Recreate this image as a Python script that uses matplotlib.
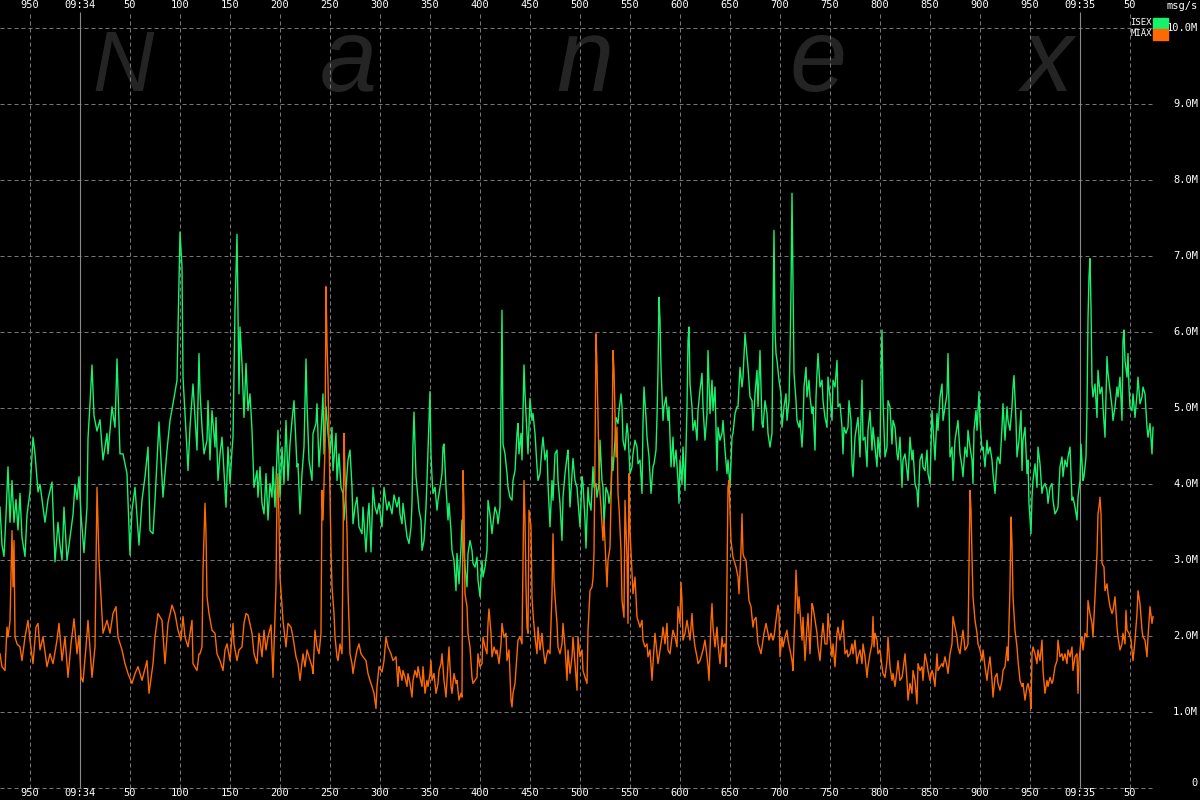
import numpy as np
import matplotlib.pyplot as plt
from matplotlib.patches import Rectangle

# 时间轴: ms after 09:33:00.000, chart left edge is 09:33.920
t0 = 920

# ISEX msg/s (millions), time offsets in ms from the left edge
isex_t = [0, 2, 4, 6, 8, 10, 12, 14, 16, 18, 20, 22, 25, 27, 30,
          33, 35, 38, 40, 43, 45, 48, 52, 55, 58, 60, 62, 64, 67, 70,
          73, 75, 77, 79, 81, 84, 87, 88, 90, 92, 94, 97, 100, 103, 107,
          108, 112, 115, 117, 120, 123, 127, 130, 132, 135, 139, 142, 145, 148, 150,
          153, 155, 159, 163, 167, 170, 173, 177, 180, 182, 183, 187, 188, 190, 193,
          197, 199, 200, 202, 204, 207, 208, 210, 212, 215, 216, 218, 220, 222, 223,
          226, 228, 230, 232, 233, 235, 237, 239, 240, 242, 244, 246, 248, 250, 252,
          254, 257, 258, 260, 262, 264, 266, 268, 270, 272, 273, 275, 277, 278, 280,
          282, 284, 286, 288, 290, 292, 294, 297, 298, 300, 302, 304, 306, 307, 309,
          312, 313, 316, 317, 319, 321, 323, 324, 326, 328, 330, 332, 333, 336, 337,
          339, 341, 343, 344, 347, 348, 350, 352, 353, 355, 357, 359, 362, 363, 366,
          368, 369, 371, 373, 375, 377, 379, 382, 384, 387, 389, 392, 394, 397, 399,
          400, 402, 403, 405, 407, 409, 411, 412, 413, 414, 416, 417, 419, 421, 422,
          424, 426, 427, 429, 430, 431, 432, 433, 435, 437, 438, 440, 442, 443, 444,
          446, 448, 449, 451, 452, 454, 456, 457, 459, 461, 462, 463, 465, 467, 468,
          470, 472, 473, 475, 477, 478, 480, 482, 483, 485, 487, 488, 490, 492, 493,
          495, 497, 498, 500, 501, 502, 503, 505, 507, 508, 510, 512, 513, 515, 517,
          518, 519, 521, 522, 523, 524, 525, 527, 528, 530, 532, 533, 535, 537, 538,
          540, 542, 543, 545, 547, 548, 550, 552, 553, 555, 557, 558, 560, 562, 563,
          565, 567, 568, 570, 572, 573, 575, 577, 578, 580, 582, 583, 585, 586, 588,
          589, 591, 593, 594, 596, 597, 599,
          600, 602, 603, 604, 606, 608, 609, 611, 612, 613, 615, 616, 618, 619, 621,
          622, 623, 625, 627, 628, 630, 632, 633, 635, 637, 638, 640, 642, 643, 644,
          646, 647, 649, 651, 653, 654, 656, 657, 658, 659, 660, 661, 663, 664, 666,
          668, 669, 671, 673, 674, 676, 678, 679, 680, 682, 683, 685, 687, 688, 689,
          690, 692, 693, 695, 697, 698, 700, 702, 703, 705, 707, 708, 710, 712, 713,
          715, 717, 718, 720, 722, 723, 725, 727, 728, 730, 732, 733, 735, 737, 738,
          740, 742, 743, 745, 747, 748, 750, 752, 753, 755, 757, 758, 760, 762, 763,
          765, 767, 768, 770, 772, 773, 774, 775, 776, 777, 779, 781, 782, 784, 786,
          787, 789, 790, 791, 792, 793, 794, 796, 797, 799,
          800, 802, 803, 804, 806, 807, 809, 810, 812, 813, 815, 816, 817, 818, 820,
          822, 823, 825, 827, 828, 830, 832, 833, 835, 837, 838, 840, 842, 843, 844,
          846, 848, 849, 851, 852, 853, 855, 857, 858, 860, 862, 863, 865, 867, 868,
          870, 872, 873, 875, 877, 878, 880, 881, 882, 883, 885, 887, 888, 890, 892,
          893, 895, 897, 898, 900, 902, 903, 905, 907, 908, 910, 912, 913, 915, 917,
          918, 920, 922, 923, 925, 927, 928, 930, 932, 933, 935, 937, 938, 940, 942,
          943, 945, 947, 948, 950, 952, 953, 955, 957, 958, 960, 962, 963, 965, 967,
          968, 970, 972, 973, 974, 976, 977, 979, 980, 982, 983, 985, 987, 988, 990,
          992, 993, 995, 997, 998,
          1000, 1002, 1003, 1005, 1007, 1008, 1010, 1012, 1013, 1014, 1016, 1017, 1019, 1021, 1022,
          1023, 1025, 1027, 1028, 1029, 1031, 1032, 1033, 1035, 1037, 1038, 1040, 1042, 1043, 1045,
          1047, 1048, 1050, 1052, 1053, 1055, 1057, 1058, 1060, 1062, 1063, 1065, 1067, 1068, 1070,
          1072, 1073, 1075, 1077, 1078, 1080, 1081, 1083, 1084, 1086, 1087, 1088, 1089, 1090, 1091,
          1092, 1093, 1095, 1097, 1098, 1100, 1102, 1103, 1105, 1107, 1108, 1110, 1112, 1113, 1115,
          1117, 1118, 1120, 1122, 1123, 1124, 1125, 1127, 1128, 1129, 1130, 1132, 1133, 1135, 1137,
          1138, 1140, 1142, 1143, 1145, 1147, 1148, 1150, 1152, 1153]
isex_v = [3.70, 3.20, 3.05, 3.6, 4.23, 3.5, 4.05, 3.5, 3.8, 3.4, 3.88, 3.3, 3.05, 3.6, 3.9,
          4.62, 4.4, 3.9, 4.0, 3.7, 3.5, 3.8, 4.03, 2.98, 3.5, 3.2, 3.0, 3.7, 3.0, 3.3,
          3.6, 4.0, 3.8, 4.1, 3.6, 3.1, 3.7, 4.6, 5.06, 5.57, 4.9, 4.7, 4.85, 4.32, 4.67,
          4.4, 5.02, 4.75, 5.65, 4.4, 4.4, 4.14, 3.07, 3.66, 3.96, 3.2, 3.79, 4.1, 4.49, 3.39,
          3.35, 3.79, 4.82, 3.83, 4.45, 4.84, 5.06, 5.37, 7.32, 6.86, 5.41, 4.45, 4.18, 4.75, 5.32,
          4.45, 5.72, 5.22, 4.75, 4.4, 4.58, 5.1, 4.32, 4.97, 4.49, 4.88, 4.05, 4.4, 4.62, 4.4,
          3.7, 4.49, 4.01, 4.45, 4.62, 6.29, 7.29, 5.19, 6.07, 5.59, 4.88, 5.59, 4.97, 5.19, 4.71,
          3.96, 4.18, 3.83, 4.23, 3.75, 3.61, 4.14, 3.53, 4.01, 3.83, 4.23, 3.7, 4.4, 4.71, 3.83,
          4.49, 4.01, 4.84, 4.05, 4.53, 4.84, 5.1, 4.23, 4.27, 3.61, 4.14, 4.49, 5.65, 5.06, 4.32,
          4.05, 4.67, 4.8, 5.06, 4.23, 4.67, 5.19, 4.4, 5.02, 4.67, 4.4, 4.75, 4.18, 4.67, 4.05,
          4.4, 3.96, 3.88, 3.53, 4.14, 4.32, 4.45, 3.96, 3.48, 3.7, 3.83, 3.44, 3.35, 3.7, 3.11,
          3.61, 3.75, 3.11, 3.96, 3.7, 3.61, 3.75, 3.44, 3.96, 3.66, 3.77, 3.61, 3.86, 3.7, 3.83,
          3.61, 3.48, 3.75, 3.53, 3.31, 3.22, 3.44, 3.75, 4.53, 4.95, 4.1, 3.96, 3.66, 3.53, 3.13,
          3.26, 3.7, 4.05, 4.84, 5.22, 4.4, 4.1, 3.88, 3.96, 3.66, 3.79, 3.96, 4.14, 4.49, 4.53,
          3.96, 3.53, 3.75, 3.39, 3.13, 3.0, 2.6, 3.09, 2.69, 3.17, 3.53, 3.26, 2.91, 2.65, 3.09,
          3.26, 3.13, 2.96, 2.91, 3.04, 2.74, 2.52, 3.0, 2.78, 2.91, 3.13, 3.79, 3.61, 3.35, 3.48,
          3.7, 3.61, 3.48, 3.7, 5.1, 6.29, 4.53, 4.4, 4.14, 3.96, 3.83, 3.79, 4.05, 4.18, 4.67,
          4.8, 4.4, 4.67, 4.32, 4.93, 5.57, 5.19, 4.67, 4.4, 5.13, 4.84, 4.93, 4.67, 4.23, 4.05,
          4.14, 4.49, 4.62, 4.32, 4.45, 4.01, 3.44, 4.05, 3.79, 4.4, 4.45, 4.05, 3.75, 3.26, 3.83,
          4.14, 4.36, 4.45, 3.7, 4.14, 4.34, 4.05, 3.96, 3.79, 3.44, 4.1, 4.01, 3.53, 3.16, 3.96,
          3.79, 3.66, 4.23, 3.96, 4.01, 3.83, 4.01,
          4.58, 4.05, 3.96, 3.48, 3.96, 3.88, 3.75, 3.92, 4.36, 4.18, 4.58, 4.88, 4.8, 4.97, 5.19,
          5.02, 4.58, 4.45, 4.8, 4.67, 4.14, 4.23, 4.4, 4.58, 4.49, 4.27, 4.32, 3.88, 4.8, 5.28,
          4.88, 4.62, 4.36, 3.88, 4.23, 4.27, 4.45, 4.88, 5.5, 6.46, 6.16, 5.54, 4.84, 5.02, 5.15,
          4.84, 5.02, 4.23, 4.62, 4.23, 4.45, 4.05, 3.75, 4.32, 4.01, 4.49, 3.92, 5.02, 5.89, 6.07,
          5.32, 5.02, 4.71, 4.84, 4.58, 4.97, 5.24, 5.46, 5.02, 4.58, 4.93, 5.76, 4.93, 5.37, 4.97,
          5.28, 4.18, 4.75, 4.58, 4.67, 4.84, 4.45, 4.14, 4.32, 3.96, 4.62, 4.67, 4.93, 5.02, 5.02,
          5.54, 5.28, 5.41, 5.98, 5.68, 5.54, 5.15, 5.1, 4.71, 5.19, 5.5, 5.02, 5.76, 4.8, 4.75,
          5.1, 4.93, 4.67, 4.49, 4.67, 6.16, 7.34, 6.03, 5.72, 5.63, 5.37, 5.19, 4.75, 5.02, 5.19,
          4.84, 5.1, 5.72, 6.55, 7.83, 6.6, 5.46, 5.1, 4.84, 4.75,
          4.84, 4.49, 4.75, 5.28, 5.54, 5.15, 5.37, 5.15, 4.93, 5.02, 4.45, 5.15, 5.46, 5.72, 5.28,
          5.37, 5.1, 4.88, 4.75, 5.41, 5.15, 4.84, 5.37, 5.28, 5.63, 5.02, 5.06, 4.75, 4.4, 4.75,
          4.67, 4.75, 5.1, 4.84, 4.27, 4.1, 4.62, 4.8, 4.88, 4.36, 5.37, 4.58, 4.62, 4.23, 4.71,
          4.97, 4.45, 4.75, 4.49, 4.23, 4.62, 4.36, 5.5, 6.03, 5.1, 4.36, 4.49, 5.1, 5.02, 4.53,
          4.84, 4.75, 4.4, 4.32, 4.62, 3.96, 4.32, 4.4, 4.18, 4.05, 4.62, 4.32, 4.45, 4.01, 3.92,
          3.7, 4.32, 4.4, 4.23, 4.18, 4.45, 4.14, 4.01, 4.97, 4.75, 4.32, 4.93, 4.71, 5.15, 5.32,
          4.84, 5.02, 5.19, 5.72, 4.36, 4.49, 4.05, 4.58, 4.75, 4.84, 4.4, 4.23, 4.1, 4.49, 4.36,
          4.71, 4.49, 4.32, 4.01, 4.71, 4.97, 4.71, 5.22, 4.84, 4.45, 4.49, 4.23, 4.58, 4.4, 4.49,
          4.32, 4.14, 3.88, 4.32, 4.36,
          4.27, 4.75, 5.06, 4.58, 5.02, 4.84, 4.71, 5.02, 5.28, 5.43, 4.84, 4.36, 4.58, 4.97, 4.18,
          4.58, 4.75, 4.14, 4.32, 3.75, 3.35, 3.83, 4.05, 4.27, 3.96, 4.49, 4.27, 3.88, 3.96, 4.01,
          3.92, 3.75, 3.96, 4.01, 3.79, 3.61, 3.66, 3.7, 4.23, 4.36, 4.1, 4.32, 4.23, 4.36, 4.49,
          3.79, 3.83, 3.7, 3.53, 3.83, 4.05, 4.53, 4.05, 4.1, 4.36, 5.02, 6.16, 6.73, 6.97, 6.33,
          5.32, 5.15, 5.32, 4.88, 5.5, 5.19, 5.28, 5.02, 4.62, 5.68, 5.46, 5.24, 5.02, 4.84, 5.02,
          5.28, 5.15, 5.41, 4.84, 5.89, 6.03, 5.63, 5.41, 5.72, 5.28, 5.02, 4.97, 5.19, 4.88, 5.19,
          5.41, 5.06, 5.15, 5.28, 5.19, 4.75, 4.62, 4.8, 4.4, 4.75]

# MIAX msg/s (millions)
miax_t = [0, 2, 5, 7, 8, 10, 12, 13, 14, 15, 17, 20, 22, 25, 28,
          30, 33, 36, 38, 40, 43, 47, 50, 53, 57, 59, 62, 65, 68, 71,
          74, 77, 79, 81, 83, 86, 88, 92, 95, 97, 99, 101, 103, 107, 110,
          113, 116, 118, 122, 125, 128, 132, 135, 138, 142, 147, 149, 153, 155, 158,
          162, 165, 168, 172, 175, 178, 181, 183, 185, 188, 192, 193, 197, 199,
          200, 202, 203, 205, 206, 207, 209, 212, 215, 217, 220, 223, 225, 227, 230,
          233, 234, 237, 239, 242, 244, 246, 248, 252, 254, 257, 259, 262, 264, 266,
          268, 271, 273, 274, 276, 277, 278, 279, 280, 282, 283, 286, 288, 291, 293,
          296, 298, 300, 303, 305, 307, 309, 312, 313, 315, 317, 319, 321, 322, 323,
          325, 326, 327, 328, 329, 330, 331, 332, 334, 335, 337, 338, 340, 342, 343,
          344, 345, 347, 348, 350, 352, 353, 355, 357, 359, 361, 363, 366, 368, 370,
          372, 374, 376, 377, 379, 382, 384, 386, 388, 391, 393, 396, 398, 399,
          400, 402, 403, 405, 407, 408, 410, 412, 413, 415, 417, 418, 420, 422, 423,
          425, 427, 428, 430, 431, 432, 434, 436, 438, 439, 441, 442, 444, 446, 447,
          449, 451, 452, 454, 456, 457, 459, 461, 462, 463, 464, 465, 467, 468, 470,
          472, 473, 475, 477, 478, 480, 482, 483, 485, 487, 488, 489, 491, 492, 494,
          496, 497, 499, 501, 502, 504, 506, 507, 509, 511, 512, 513, 515, 517, 518,
          520, 522, 523, 524, 525, 526, 527, 528, 529, 531, 532, 533, 535, 537, 538,
          540, 542, 543, 545, 547, 548, 550, 552, 553, 554, 555, 557, 558, 560, 562,
          563, 565, 567, 568, 570, 572, 573, 575, 577, 578, 580, 582, 583, 585, 587,
          588, 590, 592, 593, 594, 595, 596, 597, 599,
          600, 601, 603, 604, 606, 607, 608, 610, 612, 613, 614, 616, 617, 618, 619,
          621, 622, 624, 625, 627, 628, 629, 630, 632, 633, 635, 637, 638, 640, 642,
          643, 645, 647, 648, 650, 652, 653, 655, 657, 658, 660, 662, 663, 665, 667,
          668, 670, 672, 673, 675, 677, 678, 680, 681, 682, 683, 685, 687, 688, 690,
          692, 693, 695, 697, 698, 700, 702, 703, 705, 707, 708, 709, 711, 712, 713,
          715, 717, 718, 720, 722, 723, 725, 726, 727, 728, 729, 730, 731, 733, 734,
          736, 738, 739, 741, 742, 743, 744, 746, 748, 749, 751, 753, 754, 756, 758,
          759, 761, 763, 764, 766, 768, 769, 771, 773, 774, 776, 778, 779, 780, 782,
          783, 785, 787, 788, 790, 792, 793, 795, 796, 798, 799,
          800, 802, 803, 805, 807, 808, 810, 812, 813, 815, 817, 818, 820, 822, 823,
          825, 827, 828, 830, 832, 833, 835, 837, 838, 840, 842, 843, 845, 847, 848,
          850, 852, 853, 855, 857, 858, 860, 862, 863, 865, 867, 868, 870, 872, 873,
          874, 875, 877, 878, 880, 882, 883, 885, 887, 888, 890, 892, 893, 895, 897,
          898, 900, 902, 903, 905, 907, 908, 910, 912, 913, 915, 917, 918, 920, 922,
          923, 925, 927, 928, 930, 932, 933, 935, 937, 938, 940, 942, 943, 945, 947,
          948, 950, 952, 953, 955, 957, 958, 960, 962, 963, 965, 967, 968, 969, 970,
          971, 972, 973, 975, 977, 978, 980, 982, 983, 985, 987, 988, 990, 992, 993,
          995, 997, 998,
          1000, 1002, 1003, 1005, 1007, 1008, 1010, 1011, 1012, 1013, 1015, 1017, 1018, 1020, 1022,
          1023, 1025, 1027, 1028, 1030, 1031, 1032, 1033, 1035, 1037, 1038, 1040, 1042, 1043, 1045,
          1047, 1048, 1050, 1052, 1053, 1055, 1057, 1058, 1060, 1062, 1063, 1065, 1067, 1068, 1070,
          1072, 1073, 1075, 1077, 1078, 1079, 1081, 1082, 1083, 1085, 1087, 1088, 1090, 1092, 1093,
          1095, 1097, 1098, 1099, 1100, 1101, 1102, 1104, 1105, 1107, 1108, 1110, 1112, 1113, 1115,
          1117, 1118, 1120, 1122, 1123, 1125, 1126, 1127, 1129, 1131, 1132, 1133, 1135, 1137, 1138,
          1140, 1142, 1143, 1145, 1147, 1148, 1150, 1152, 1153]
miax_v = [1.77, 1.6, 1.55, 2.12, 1.99, 2.2, 3.39, 2.65, 3.26, 1.99, 1.9, 1.86, 1.68, 1.99, 2.21,
          1.95, 1.64, 2.12, 2.17, 1.82, 1.99, 1.6, 1.77, 1.64, 1.95, 2.17, 1.68, 1.99, 1.46, 1.9,
          2.23, 1.77, 2.01, 1.46, 1.4, 1.86, 2.21, 1.46, 1.86, 3.96, 3.0, 2.52, 2.04, 2.21, 2.04,
          2.3, 2.39, 1.99, 1.82, 1.64, 1.51, 1.38, 1.51, 1.6, 1.42, 1.68, 1.25, 1.64, 1.99, 2.3,
          2.21, 1.64, 2.17, 2.41, 2.3, 2.08, 1.95, 2.26, 1.99, 1.86, 2.21, 1.64, 1.55, 1.77,
          1.77, 1.86, 2.87, 3.75, 3.35, 2.52, 2.3, 2.08, 2.04, 1.77, 1.68, 1.55, 1.82, 1.9, 1.68,
          2.17, 1.9, 1.68, 1.82, 1.86, 2.17, 2.3, 2.28, 2.04, 1.77, 1.64, 2.04, 1.73, 2.08, 1.82,
          1.99, 2.15, 1.46, 1.86, 2.65, 3.88, 4.14, 3.53, 2.78, 2.39, 2.21, 1.86, 2.17, 2.12, 1.99,
          1.73, 1.64, 1.42, 1.77, 1.6, 1.82, 1.73, 1.6, 1.51, 2.08, 1.86, 1.77, 2.04, 3.92, 3.53,
          4.49, 6.6, 5.85, 5.37, 4.62, 3.83, 3.13, 2.65, 2.3, 1.99, 1.73, 1.68, 1.9, 1.77, 3.09,
          4.67, 4.14, 3.39, 2.6, 1.77, 1.64, 1.51, 1.68, 1.82, 1.9, 1.77, 1.73, 1.68, 1.51, 1.42,
          1.34, 1.25, 1.05, 1.34, 1.6, 1.53, 1.68, 1.99, 1.86, 1.77, 1.68, 1.73, 1.34, 1.6,
          1.55, 1.42, 1.55, 1.46, 1.34, 1.51, 1.38, 1.2, 1.42, 1.55, 1.46, 1.6, 1.46, 1.34, 1.6,
          1.25, 1.42, 1.34, 1.51, 1.68, 1.42, 1.51, 1.25, 1.38, 1.55, 1.64, 1.77, 1.42, 1.2, 1.42,
          1.86, 1.34, 1.25, 1.51, 1.38, 1.42, 1.16, 1.25, 1.2, 4.18, 3.7, 2.56, 2.39, 2.04, 1.86,
          1.46, 1.38, 1.42, 1.46, 1.77, 1.6, 1.64, 1.99, 1.86, 1.77, 2.17, 2.36, 2.04, 1.73, 1.86,
          1.77, 1.82, 1.64, 1.9, 2.17, 1.99, 2.04, 1.68, 1.82, 1.16, 1.07, 1.25, 1.38, 1.77, 1.95,
          1.99, 1.9, 3.0, 4.05, 3.53, 2.65, 2.12, 2.04, 3.66, 3.44, 2.52, 2.3, 1.99, 1.77, 2.12,
          1.82, 2.04, 1.86, 1.64, 1.77, 1.82, 1.77, 2.56, 3.35, 2.74, 2.52, 2.17, 1.86, 1.77, 1.9,
          2.17, 1.86, 1.42, 1.82, 1.51, 1.73, 1.99, 1.64, 1.29, 1.99, 1.73, 1.82, 1.55, 1.46, 1.38,
          2.08, 2.6, 2.65, 2.76, 3.09, 4.36, 5.98, 5.54, 4.23,
          3.88, 3.7, 3.26, 3.53, 2.96, 2.65, 3.0, 3.17, 4.4, 5.76, 5.5, 4.36, 4.75, 3.88, 3.7,
          3.13, 2.47, 2.25, 3.79, 3.04, 2.17, 4.14, 3.39, 2.82, 2.56, 2.78, 2.25, 2.21, 2.12, 2.21,
          1.95, 1.86, 1.9, 1.73, 1.82, 1.42, 1.64, 2.04, 1.77, 1.64, 1.82, 1.99, 2.12, 1.9, 2.17,
          1.82, 1.77, 1.99, 2.08, 1.99, 1.86, 2.39, 2.17, 2.71, 2.47, 1.95, 2.04, 2.21, 2.12, 1.95,
          2.3, 2.08, 1.86, 1.73, 1.64, 1.68, 1.77, 1.82, 1.95, 1.73, 1.6, 1.42, 2.21, 2.43, 2.12,
          1.86, 2.12, 1.9, 1.64, 1.99, 1.86, 1.9, 1.6, 2.78, 3.96, 4.05, 3.66, 3.26, 3.04, 3.0,
          2.91, 2.78, 2.56, 3.13, 3.61, 3.09, 3.04, 3.0, 2.65, 2.47, 2.39, 2.12, 2.21, 2.25, 1.9,
          1.86, 1.77, 1.95, 2.04, 2.17, 2.04, 1.95, 2.04, 1.95, 1.99, 2.21, 2.41, 2.3, 1.73, 1.99,
          1.86, 1.99, 2.08, 1.95, 1.82, 1.68, 1.55, 2.34, 2.87, 2.3, 2.52,
          2.34, 1.95, 2.25, 1.68, 2.12, 2.3, 1.77, 2.43, 2.39, 2.21, 2.04, 1.86, 1.68, 2.04, 2.17,
          1.9, 1.9, 2.3, 1.99, 1.73, 1.9, 1.6, 2.04, 2.12, 1.95, 2.08, 2.21, 1.77, 1.82, 1.73,
          1.77, 1.9, 1.77, 1.95, 1.64, 1.73, 1.82, 1.64, 1.9, 1.73, 1.46, 1.6, 1.77, 1.9, 2.26,
          1.86, 2.04, 1.95, 1.77, 1.82, 1.6, 1.51, 1.46, 1.68, 1.99, 1.6, 1.42, 1.51, 1.34, 1.55,
          1.68, 1.42, 1.46, 1.55, 1.77, 1.42, 1.16, 1.38, 1.25, 1.55, 1.42, 1.11, 1.64, 1.55, 1.6,
          1.42, 1.77, 1.64, 1.55, 1.42, 1.55, 1.51, 1.34, 1.77, 1.55, 1.6, 1.64, 1.6, 1.73, 1.6,
          1.51, 1.77, 1.9, 2.26, 2.12, 1.99, 1.86, 1.77, 1.99, 2.08, 1.82, 1.86, 1.9, 2.91, 3.92,
          3.66, 3.04, 2.52, 2.21, 2.04, 1.9, 1.82, 1.68, 1.82, 1.6, 1.42, 1.55, 1.73, 1.42, 1.2,
          1.46, 1.51, 1.38,
          1.29, 1.42, 1.55, 1.6, 1.86, 1.68, 2.65, 3.57, 3.22, 2.52, 2.08, 1.86, 1.68, 1.42, 1.34,
          1.38, 1.16, 1.34, 1.38, 1.25, 1.05, 1.77, 1.86, 1.77, 1.64, 1.82, 1.68, 1.95, 1.55, 1.25,
          1.42, 1.34, 1.46, 1.38, 1.42, 1.6, 1.68, 1.95, 1.73, 1.77, 1.68, 1.77, 1.64, 1.82, 1.73,
          1.86, 1.55, 1.73, 1.77, 1.25, 1.68, 1.95, 1.99, 1.82, 2.04, 1.99, 2.47, 2.3, 2.17, 1.99,
          2.52, 3.09, 3.61, 3.7, 3.83, 3.61, 2.96, 2.91, 2.6, 2.69, 2.56, 2.39, 2.3, 2.34, 2.52,
          2.12, 1.99, 1.82, 1.9, 2.04, 1.9, 2.34, 2.08, 2.04, 1.95, 1.82, 1.68, 1.95, 2.3, 2.6,
          2.43, 2.08, 1.99, 1.95, 1.73, 1.99, 2.39, 2.17, 2.26]

tick_ms = np.arange(950, 2051, 50)     # x 轴刻度 (ms after 09:33)
y_ticks = np.arange(1, 11)             # msg/s, millions
watermark = ['N', 'a', 'n', 'e', 'x']
watermark_px = [123, 348, 585, 818, 1047]

# 像素 -> 数据坐标 (76 px per 1M, zero line at y=788)
def ypx(p):
    return (788.3 - p) / 76.0

fig = plt.figure(figsize=(12, 8), dpi=100, facecolor='black')
ax = fig.add_axes([0, 0, 1, 1])
ax.set_facecolor('black')
ax.set_axis_off()
ax.set_xlim(t0, t0 + 1200)
ax.set_ylim(ypx(800), ypx(0))

x_end = t0 + 1155
grid_kw = dict(color='#777777', lw=0.72, linestyles=(0, (4, 3)))

# watermark (capital N smaller than the lower-case letters)
for ch, px in zip(watermark, watermark_px):
    size = 61 if ch.isupper() else 74
    ax.text(t0 + px, ypx(91), ch, fontsize=size, style='italic', family='Liberation Sans',
            color='#242424', ha='center', va='baseline', zorder=0)

ax.hlines(np.arange(0, 11), t0, x_end, zorder=1, clip_on=False, **grid_kw)
minor = [m for m in tick_ms if m % 1000 != 0]
ax.vlines(minor, 0, ypx(12), zorder=1, **grid_kw)
ax.vlines([1000, 2000], 0, ypx(12), color='#8a8a8a', lw=0.8, zorder=1)

ax.plot(t0 + np.array(isex_t), isex_v, color='#17f26c', lw=1.0, zorder=3)
ax.plot(t0 + np.array(miax_t), miax_v, color='#ff6a00', lw=1.0, zorder=4)

font = dict(family='DejaVu Sans Mono', color='white')
for m in tick_ms:
    lab = '09:%02d' % (33 + m // 1000) if m % 1000 == 0 else str(m % 1000)
    ax.text(m, ypx(5), lab, fontsize=7.5, ha='center', va='center', **font)
    ax.text(m, ypx(793), lab, fontsize=7.5, ha='center', va='center', **font)

for v in y_ticks:
    ax.text(t0 + 1198, v, '%.1fM' % v, fontsize=7.5, ha='right', va='center', **font)
ax.text(t0 + 1198, ypx(783), '0', fontsize=7.5, ha='right', va='center', **font)
ax.text(t0 + 1198, ypx(6), 'msg/s', fontsize=7.5, ha='right', va='center', **font)

# legend
ax.text(t0 + 1152, ypx(23), 'ISEX', fontsize=6.5, ha='right', va='center', **font)
ax.text(t0 + 1152, ypx(34), 'MIAX', fontsize=6.5, ha='right', va='center', **font)
ax.add_patch(Rectangle((t0 + 1153, ypx(29)), 15, ypx(18) - ypx(29), color='#17f26c', zorder=5))
ax.add_patch(Rectangle((t0 + 1153, ypx(40)), 15, ypx(29) - ypx(40), color='#ff6a00', zorder=5))

fig.savefig('out.png', dpi=100, facecolor='black')
